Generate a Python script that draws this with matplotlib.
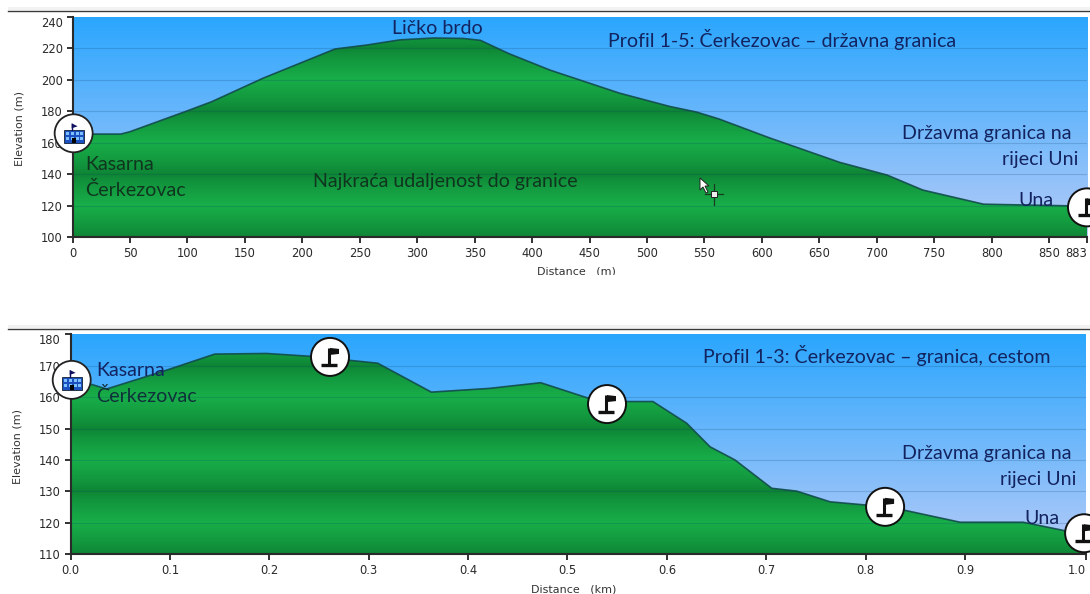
import numpy as np
import matplotlib
matplotlib.use("Agg")
import matplotlib.pyplot as plt
from matplotlib.colors import to_rgb
from matplotlib.patches import Circle, Polygon, Rectangle

# ---------- data ----------
dist_m = [0, 42, 50, 99, 121, 166, 228.5, 256, 285, 315, 340, 355, 380, 416, 476, 520, 543, 563, 607, 668, 709, 740, 793, 865, 883]
elev_m = [165.5, 165.5, 167, 180, 186, 201, 219.5, 222, 225.3, 226.5, 226.2, 225, 216.5, 206, 191.5, 183, 179.5, 175, 163, 147.5, 139.5, 130, 121, 120, 117]
ticks_m = [0, 50, 100, 150, 200, 250, 300, 350, 400, 450, 500, 550, 600, 650, 700, 750, 800, 850, 883]
yticks_m = [100, 120, 140, 160, 180, 200, 220, 240]

dist_km = [0, 0.0194, 0.0362, 0.0966, 0.145, 0.197, 0.241, 0.309, 0.363, 0.422, 0.473, 0.5207, 0.5596, 0.586, 0.62, 0.6435, 0.6687, 0.7056, 0.7308, 0.7643, 0.7995, 0.838, 0.8952, 0.9587, 0.9976, 1.0216]
elev_km = [165.5, 164.2, 162.6, 168.6, 173.7, 173.9, 173, 170.8, 161.6, 162.8, 164.6, 159.7, 158.6, 158.6, 151.7, 144.2, 140, 131, 130.1, 126.7, 125.7, 124.1, 120.2, 120.2, 117.7, 116]
ticks_km = [0.0, 0.1, 0.2, 0.3, 0.4, 0.5, 0.6, 0.7, 0.8, 0.9, 1.0216]
ticklabels_km = ["0.0", "0.1", "0.2", "0.3", "0.4", "0.5", "0.6", "0.7", "0.8", "0.9", "1.0"]
yticks_km = [110, 120, 130, 140, 150, 160, 170, 180]

building_top = (1, 166)
flags_top = [(883, 119)]
building_bot = (0.001, 165.5)
flags_bot = [(0.261, 172.8), (0.5398, 157.8), (0.8197, 125.1), (1.02, 116.7)]

W, H = 1090, 594
SKY_TOP, SKY_BOT = "#2AA6FE", "#B6CBF8"
G_DARK, G_LIGHT = "#0E8435", "#18AE49"
NAVY = "#12235F"
DARKTXT = "#10351F"

fig = plt.figure(figsize=(W / 100, H / 100), dpi=100, facecolor="white")


def make_ax(l, r, t, b):
    return fig.add_axes([l / W, 1 - b / H, (r - l) / W, (b - t) / H])


def panel(ax, xs, ys, xlim, ylim, xticks, xlabels, yticks, dark_levels):
    ax.set_xlim(*xlim)
    ax.set_ylim(*ylim)
    # sky
    t = np.linspace(0, 1, 256)[:, None]
    sky = (1 - t) * np.array(to_rgb(SKY_TOP)) + t * np.array(to_rgb(SKY_BOT))
    ax.imshow(sky[:, None, :], extent=(*xlim, *ylim), aspect="auto", origin="upper", zorder=0)
    # banded green
    ev = np.linspace(ylim[0], ylim[1], 400)
    step = dark_levels[1] - dark_levels[0]
    phase = ((ev - dark_levels[0]) / step) % 1
    tri = (1 - np.abs(2 * phase - 1)) ** 0.8
    grn = (1 - tri)[:, None] * np.array(to_rgb(G_DARK)) + tri[:, None] * np.array(to_rgb(G_LIGHT))
    im = ax.imshow(grn[:, None, :], extent=(*xlim, ylim[0], ylim[1]), aspect="auto", origin="lower", zorder=1)
    poly = Polygon(list(zip(xs, ys)) + [(xlim[1], ylim[0]), (xlim[0], ylim[0])], closed=True,
                   transform=ax.transData, fc="none", ec="none")
    ax.add_patch(poly)
    im.set_clip_path(poly)
    for v in yticks[1:-1]:
        ax.axhline(v, color="#0C3F6B", lw=0.8, alpha=0.2, zorder=2)
    ax.plot(xs, ys, color="#114C4C", lw=1.2, alpha=0.9, zorder=3, solid_joinstyle="round")
    for s in ("top", "right"):
        ax.spines[s].set_visible(False)
    for s in ("left", "bottom"):
        ax.spines[s].set_linewidth(1.5)
        ax.spines[s].set_color("#2A2A2A")
    ax.set_xticks(xticks)
    ax.set_xticklabels(xlabels)
    ax.set_yticks(yticks)
    ax.tick_params(length=4, width=1.3, color="#222222", labelsize=8.3, labelcolor="#2A2A2A", pad=3)
    ax.get_xticklabels()[-1].set_ha("right")
    ax.get_yticklabels()[-1].set_va("top")


ax1 = make_ax(72.5, 1087, 16.7, 237.3)
panel(ax1, dist_m, elev_m, (0, 883), (100, 240), ticks_m, [str(v) for v in ticks_m], yticks_m, [100, 140])
ax2 = make_ax(70.7, 1085.7, 334.3, 554.3)
panel(ax2, dist_km, elev_km, (0, 1.0216), (110, 180), ticks_km, ticklabels_km, yticks_km, [110, 130])

ov = fig.add_axes([0, 0, 1, 1], zorder=10)
ov.set_xlim(0, W)
ov.set_ylim(H, 0)
ov.axis("off")
ov.patch.set_alpha(0)


def to_px(ax, pt):
    x, y = ax.transData.transform(pt)
    return x, H - y


def flag(ax, pt):
    cx, cy = to_px(ax, pt)
    ov.add_patch(Circle((cx, cy), 19, fc="white", ec="#111111", lw=1.4, zorder=5))
    ov.plot([cx - 9, cx + 7], [cy + 8, cy + 8], color="#111111", lw=2.4, zorder=6, solid_capstyle="butt")
    ov.plot([cx - 1, cx - 1], [cy - 9, cy + 8], color="#111111", lw=2.2, zorder=6, solid_capstyle="butt")
    ov.add_patch(Polygon([(cx, cy - 9), (cx + 9, cy - 8), (cx + 9, cy - 3), (cx, cy - 2)], fc="#111111", ec="none", zorder=6))


def building(ax, pt):
    cx, cy = to_px(ax, pt)
    ov.add_patch(Circle((cx, cy), 19, fc="white", ec="#222222", lw=1.3, zorder=5))
    ov.add_patch(Rectangle((cx - 10, cy - 3), 20, 13, fc="#1C4FC0", ec="#112233", lw=0.6, zorder=6))
    for dx in (-8, -3, 2, 6):
        for dy in (-1, 4):
            ov.add_patch(Rectangle((cx + dx, cy + dy), 3, 3, fc="#7CC0FF", ec="none", zorder=7))
    ov.add_patch(Rectangle((cx - 2, cy + 5), 4, 5, fc="#000000", ec="none", zorder=8))
    ov.plot([cx - 2, cx - 2], [cy - 9, cy - 3], color="#101060", lw=1, zorder=6)
    ov.add_patch(Polygon([(cx - 2, cy - 10), (cx + 4, cy - 7), (cx - 2, cy - 5)], fc="#101060", ec="none", zorder=6))


building(ax1, building_top)
for p in flags_top:
    flag(ax1, p)
building(ax2, building_bot)
for p in flags_bot:
    flag(ax2, p)


def txt(x, y, s, color=NAVY, ha="left", size=14.1):
    ov.text(x, y, s, color=color, ha=ha, va="center", fontsize=size, family=["Lato", "DejaVu Sans"], zorder=9)


txt(392, 29, "Ličko brdo")
txt(608, 40, "Profil 1-5: Čerkezovac – državna granica")
txt(85, 164, "Kasarna", DARKTXT)
txt(85, 190, "Čerkezovac", DARKTXT)
txt(313, 182, "Najkraća udaljenost do granice", DARKTXT)
txt(902, 133, "Državma granica na")
txt(1078, 159, "rijeci Uni", ha="right")
txt(1018, 200, "Una")
txt(703, 355, "Profil 1-3: Čerkezovac – granica, cestom")
txt(96, 371, "Kasarna")
txt(96, 396, "Čerkezovac", "#10303A")
txt(902, 454, "Državma granica na")
txt(1076, 480, "rijeci Uni", ha="right")
txt(1024, 518, "Una")

# axis titles
for (x, y, s, r) in [(20, 129, "Elevation (m)", 90), (18, 447, "Elevation (m)", 90),
                     (576, 272, "Distance   (m)", 0), (574, 589, "Distance   (km)", 0)]:
    ov.text(x, y, s, rotation=r, ha="center", va="center", fontsize=8, color="#333333", zorder=4)
ov.add_patch(Rectangle((500, 275), 160, 12, fc="white", ec="none", zorder=4.5))

# window rules above each panel
for y in (11.3, 329.3):
    ov.plot([8, W], [y, y], color="#3A3A3A", lw=1, zorder=4)
    ov.add_patch(Rectangle((8, y - 4), W - 8, 3, fc="#F2F2F2", ec="none", zorder=3))

# mouse cursor
ov.add_patch(Polygon([(700, 178), (700, 190), (703, 187), (706, 193), (708, 192), (705, 186), (709, 186)],
                     fc="white", ec="#222222", lw=0.7, zorder=6))
ov.plot([705, 723], [194, 194], color="#1A3A20", lw=0.9, zorder=6)
ov.plot([714, 714], [184, 205], color="#1A3A20", lw=0.9, zorder=6)
ov.add_patch(Rectangle((711, 191), 6, 6, fc="#EEEEEE", ec="#222222", lw=0.7, zorder=7))

fig.savefig("out.png", dpi=100)
